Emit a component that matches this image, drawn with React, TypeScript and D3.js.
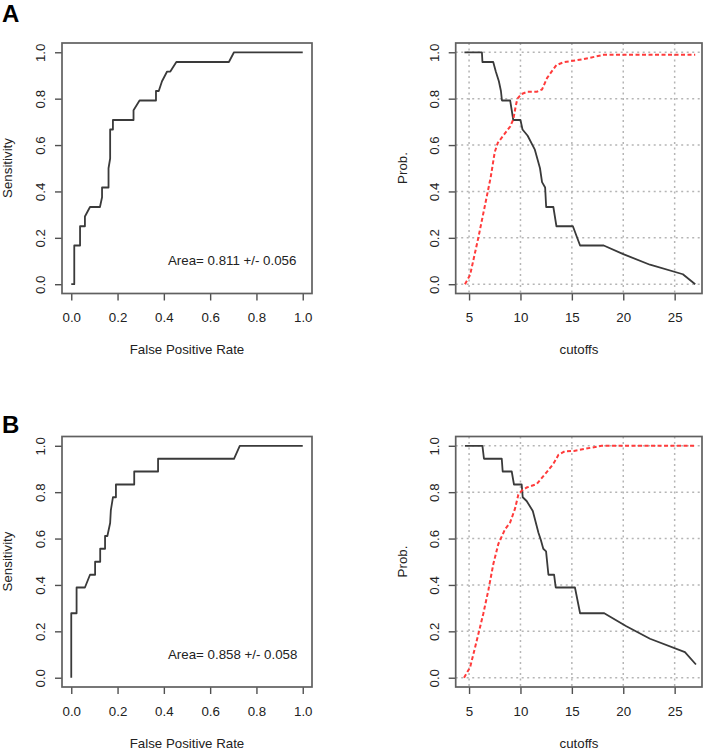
import React, { useRef, useEffect } from "react";
import { select, scaleLinear, line, axisBottom, axisLeft, format } from "d3";

// labels
const panelLabels = ["A", "B"];
const areaLabels = ["Area= 0.811 +/- 0.056", "Area= 0.858 +/- 0.058"];
const unitTicks = [0, 0.2, 0.4, 0.6, 0.8, 1.0];
const cutoffTicks = [5, 10, 15, 20, 25];

// panel A - ROC curve
const rocFprA = [0, 0.013, 0.013, 0.038, 0.038, 0.059, 0.059, 0.081, 0.124, 0.133, 0.133, 0.161, 0.161, 0.168, 0.168, 0.18, 0.18, 0.269, 0.269, 0.295, 0.366, 0.366, 0.378, 0.392, 0.414, 0.428, 0.454, 0.681, 0.703, 1];
const rocSensA = [0, 0, 0.167, 0.167, 0.25, 0.25, 0.292, 0.333, 0.333, 0.375, 0.417, 0.417, 0.5, 0.542, 0.667, 0.667, 0.708, 0.708, 0.75, 0.792, 0.792, 0.833, 0.833, 0.875, 0.917, 0.917, 0.958, 0.958, 1, 1];

// panel A - sensitivity vs cutoff (black)
const cutSensA = [4.55, 6.25, 6.3, 7.35, 7.6, 7.9, 8.1, 8.2, 9.0, 9.15, 9.3, 10.0, 10.2, 10.7, 11.4, 11.9, 12.1, 12.4, 12.5, 13.2, 13.5, 15.1, 15.8, 18.1, 20.0, 22.6, 25.8, 27.0];
const sensA = [1, 1, 0.958, 0.958, 0.917, 0.875, 0.833, 0.792, 0.792, 0.75, 0.708, 0.708, 0.667, 0.64, 0.58, 0.5, 0.44, 0.417, 0.333, 0.333, 0.25, 0.25, 0.167, 0.167, 0.13, 0.084, 0.043, 0];

// panel A - specificity vs cutoff (red)
const cutSpecA = [4.6, 5.1, 5.45, 5.9, 6.5, 7.1, 7.5, 7.8, 8.4, 9.0, 9.3, 9.55, 9.7, 10.1, 10.7, 11.6, 12.1, 12.6, 13.5, 14.2, 16.1, 18.1, 27.0];
const specA = [0, 0.04, 0.11, 0.2, 0.33, 0.46, 0.57, 0.61, 0.645, 0.68, 0.71, 0.77, 0.8, 0.82, 0.83, 0.83, 0.84, 0.89, 0.945, 0.957, 0.97, 0.989, 0.989];

// panel B - ROC curve
const rocFprB = [0, 0, 0.023, 0.023, 0.059, 0.081, 0.103, 0.103, 0.125, 0.125, 0.146, 0.146, 0.156, 0.168, 0.171, 0.18, 0.193, 0.193, 0.272, 0.272, 0.375, 0.375, 0.703, 0.728, 1];
const rocSensB = [0, 0.278, 0.278, 0.389, 0.389, 0.444, 0.444, 0.5, 0.5, 0.556, 0.556, 0.611, 0.611, 0.667, 0.722, 0.778, 0.778, 0.833, 0.833, 0.889, 0.889, 0.944, 0.944, 1, 1];

// panel B - sensitivity vs cutoff (black)
const cutSensB = [4.6, 6.3, 6.45, 8.18, 8.27, 9.15, 9.37, 10.12, 10.22, 10.6, 11.2, 11.75, 11.97, 12.22, 12.49, 12.72, 13.27, 13.43, 15.3, 15.8, 18.15, 20.3, 22.6, 26.0, 27.07];
const sensB = [1, 1, 0.944, 0.944, 0.889, 0.889, 0.833, 0.833, 0.778, 0.762, 0.719, 0.625, 0.596, 0.556, 0.545, 0.444, 0.444, 0.389, 0.389, 0.278, 0.278, 0.222, 0.168, 0.11, 0.057];

// panel B - specificity vs cutoff (red)
const cutSpecB = [4.51, 5.1, 5.75, 6.39, 6.88, 7.36, 7.85, 8.5, 9.0, 9.47, 9.8, 10.12, 10.61, 11.58, 12.55, 13.2, 13.7, 14.3, 15.2, 17.9, 27.07];
const specB = [0, 0.045, 0.16, 0.277, 0.378, 0.49, 0.577, 0.64, 0.67, 0.729, 0.79, 0.806, 0.82, 0.835, 0.886, 0.922, 0.961, 0.976, 0.978, 1, 1];

const panels = [
    { label: panelLabels[0], labelY: 22, dy: 0, area: areaLabels[0], fpr: rocFprA, sens: rocSensA, cs: cutSensA, s: sensA, cp: cutSpecA, p: specA },
    { label: panelLabels[1], labelY: 433, dy: 393.5, area: areaLabels[1], fpr: rocFprB, sens: rocSensB, cs: cutSensB, s: sensB, cp: cutSpecB, p: specB }
];

const zip = (a, b) => a.map((v, i) => [v, b[i]]);

const App = () => {
    const svgRef = useRef(null);
    const width = 708;
    const height = 749;
    const font = "'Liberation Sans', Arial, Helvetica, sans-serif";
    const fs = 13.3;

    useEffect(() => {
        const svg = select(svgRef.current);
        svg.selectAll("*").remove();
        svg.attr("width", width).attr("height", height);
        svg.append("rect").attr("width", width).attr("height", height).attr("fill", "#fff");

        panels.forEach(function (pn) {
            const top = 43 + pn.dy;
            const bottom = 293.5 + pn.dy;

            svg.append("text")
                .attr("x", 2).attr("y", pn.labelY)
                .attr("font-family", font).attr("font-weight", "bold")
                .attr("font-size", 24).attr("fill", "#000")
                .text(pn.label);

            // ---------- left: ROC ----------
            const xL = scaleLinear().domain([-0.04, 1.04]).range([62, 312]);
            const yS = scaleLinear().domain([-0.04, 1.04]).range([bottom, top]);

            const gx = svg.append("g").attr("transform", "translate(0," + bottom + ")")
                .call(axisBottom(xL).tickValues(unitTicks).tickSize(7).tickFormat(format(".1f")));
            const gy = svg.append("g").attr("transform", "translate(62,0)")
                .call(axisLeft(yS).tickValues(unitTicks).tickSize(7).tickFormat(format(".1f")));

            const rocLine = line()
                .x(function (d) { return xL(d[0]); })
                .y(function (d) { return yS(d[1]); });
            svg.append("path")
                .attr("d", rocLine(zip(pn.fpr, pn.sens)))
                .attr("fill", "none").attr("stroke", "#3a3a3a").attr("stroke-width", 1.8)
                .attr("stroke-linejoin", "round");

            svg.append("rect")
                .attr("x", 62).attr("y", top).attr("width", 250).attr("height", bottom - top)
                .attr("fill", "none").attr("stroke", "#606060").attr("stroke-width", 1.7);

            svg.append("text")
                .attr("x", 168).attr("y", 265 + pn.dy)
                .attr("font-family", font).attr("font-size", fs).attr("fill", "#222")
                .text(pn.area);

            svg.append("text")
                .attr("x", 187).attr("y", 354 + pn.dy).attr("text-anchor", "middle")
                .attr("font-family", font).attr("font-size", fs).attr("fill", "#222")
                .text("False Positive Rate");
            svg.append("text")
                .attr("transform", "translate(12," + (168 + pn.dy) + ") rotate(-90)")
                .attr("text-anchor", "middle")
                .attr("font-family", font).attr("font-size", fs).attr("fill", "#222")
                .text("Sensitivity");

            // ---------- right: cutoffs ----------
            const xR = scaleLinear().domain([3.7, 27.66]).range([455.7, 702]);

            // grid
            svg.append("g").selectAll("line").data(cutoffTicks).enter().append("line")
                .attr("x1", function (d) { return xR(d); }).attr("x2", function (d) { return xR(d); })
                .attr("y1", top).attr("y2", bottom)
                .attr("stroke", "#b5b5b5").attr("stroke-width", 1.5).attr("stroke-dasharray", "2,3.5");
            svg.append("g").selectAll("line").data(unitTicks).enter().append("line")
                .attr("x1", 455.7).attr("x2", 702)
                .attr("y1", function (d) { return yS(d); }).attr("y2", function (d) { return yS(d); })
                .attr("stroke", "#b5b5b5").attr("stroke-width", 1.5).attr("stroke-dasharray", "2,3.5");

            const gx2 = svg.append("g").attr("transform", "translate(0," + bottom + ")")
                .call(axisBottom(xR).tickValues(cutoffTicks).tickSize(7).tickFormat(format("d")));
            const gy2 = svg.append("g").attr("transform", "translate(455.7,0)")
                .call(axisLeft(yS).tickValues(unitTicks).tickSize(7).tickFormat(format(".1f")));

            const cutLine = line()
                .x(function (d) { return xR(d[0]); })
                .y(function (d) { return yS(d[1]); });
            svg.append("path")
                .attr("d", cutLine(zip(pn.cs, pn.s)))
                .attr("fill", "none").attr("stroke", "#3a3a3a").attr("stroke-width", 1.8)
                .attr("stroke-linejoin", "round");
            svg.append("path")
                .attr("d", cutLine(zip(pn.cp, pn.p)))
                .attr("fill", "none").attr("stroke", "#ff3b3b").attr("stroke-width", 2)
                .attr("stroke-dasharray", "4,2.5");

            svg.append("rect")
                .attr("x", 455.7).attr("y", top).attr("width", 702 - 455.7).attr("height", bottom - top)
                .attr("fill", "none").attr("stroke", "#606060").attr("stroke-width", 1.7);

            svg.append("text")
                .attr("x", 579).attr("y", 354 + pn.dy).attr("text-anchor", "middle")
                .attr("font-family", font).attr("font-size", fs).attr("fill", "#222")
                .text("cutoffs");
            svg.append("text")
                .attr("transform", "translate(407," + (168 + pn.dy) + ") rotate(-90)")
                .attr("text-anchor", "middle")
                .attr("font-family", font).attr("font-size", fs).attr("fill", "#222")
                .text("Prob.");

            // style the axes like base R
            [gx, gy, gx2, gy2].forEach(function (g) {
                g.select(".domain").remove();
                g.selectAll(".tick line").attr("stroke", "#505050").attr("stroke-width", 1.4);
                g.selectAll(".tick text")
                    .attr("font-family", font).attr("font-size", fs).attr("fill", "#222");
            });
            [gx, gx2].forEach(function (g) {
                g.selectAll(".tick text").attr("y", 28.5).attr("dy", 0);
            });
            [gy, gy2].forEach(function (g) {
                g.selectAll(".tick text")
                    .attr("transform", "rotate(-90)")
                    .attr("x", 0).attr("y", -17).attr("dy", 0)
                    .attr("text-anchor", "middle");
            });
        });
    }, []);

    return (
        <div style={{ position: "absolute", left: 0, top: 0 }}>
            <svg ref={svgRef} style={{ display: "block" }}></svg>
        </div>
    );
};

export default App;
